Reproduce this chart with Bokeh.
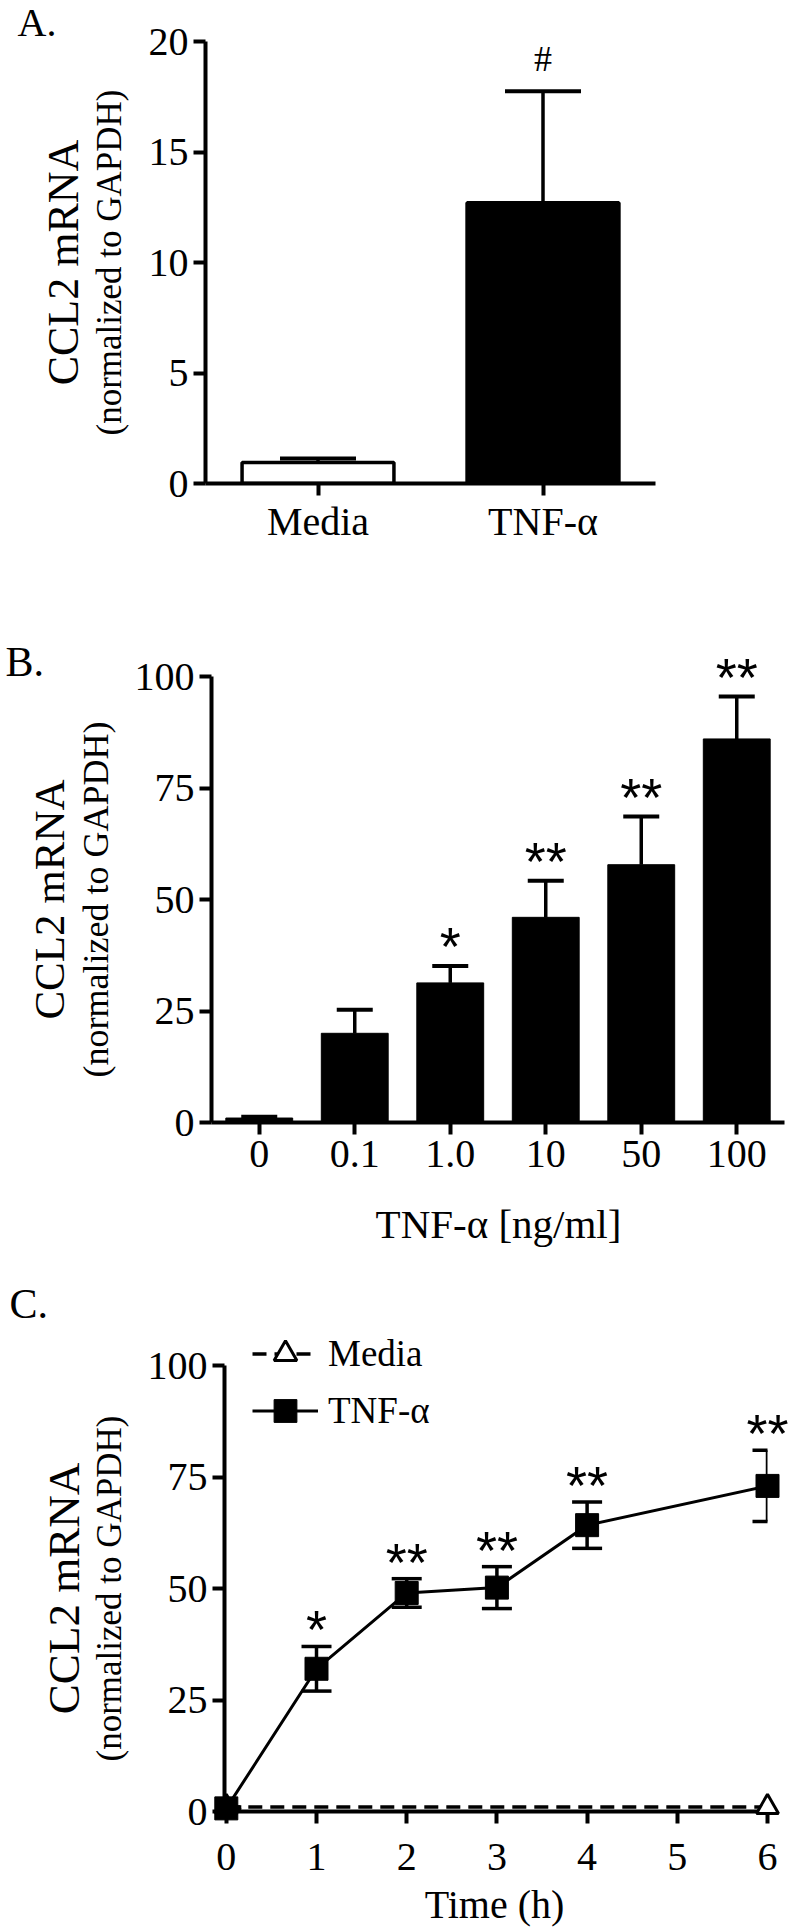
import numpy as np
from bokeh.plotting import figure
from bokeh.models import (ColumnDataSource, FixedTicker, Whisker, TeeHead,
                          Legend, LegendItem)
from bokeh.embed import file_html
from bokeh.resources import INLINE
from bokeh.core.properties import value

SERIF = "Liberation Serif"
SANS = "Liberation Sans"

# ---------------- data ----------------
# Panel A
a_groups = ["Media", "TNF-α"]
a_means = [0.95, 12.7]
a_errs = [0.18, 5.05]
a_fills = ["white", "black"]
a_sig = ["", "#"]
a_yticks = [0, 5, 10, 15, 20]

# Panel B
b_doses = ["0", "0.1", "1.0", "10", "50", "100"]
b_means = [1.0, 20.0, 31.3, 46.0, 57.8, 86.0]
b_errs = [0.3, 5.3, 3.8, 8.2, 10.8, 9.5]
b_sig = ["", "", "*", "**", "**", "**"]
b_yticks = [0, 25, 50, 75, 100]

# Panel C
c_hours = [0, 1, 2, 3, 4, 6]
c_tnf = [0.7, 32.0, 49.0, 50.2, 64.2, 73.0]
c_tnf_err = [0.3, 5.0, 3.2, 4.7, 5.2, 8.0]
c_sig = ["", "*", "**", "**", "**", "**"]
c_media_hours = [0, 6]
c_media = [1.0, 1.0]
c_xticks = [0, 1, 2, 3, 4, 5, 6]
c_yticks = [0, 25, 50, 75, 100]

PAGE_W = 793

# page-pixel geometry of each figure and its plot frame
GEOM = {
    "A": dict(fig_top=0, fig_bottom=570, left=205, right=655, top=41, bottom=483),
    "B": dict(fig_top=570, fig_bottom=1250, left=211, right=784, top=676, bottom=1122),
    "C": dict(fig_top=1250, fig_bottom=1928, left=224, right=767, top=1325, bottom=1811),
}
C_Y100_PX = 1365  # where the y-axis of panel C ends (value 100)
BASELINE_FIX = 0.4  # rendered alphabetic baseline sits ~0.4em lower than asked


def dx(g, xr, px):
    return xr[0] + (px - g["left"]) * (xr[1] - xr[0]) / (g["right"] - g["left"])


def dy(g, yr, py):
    return yr[0] + (g["bottom"] - py) * (yr[1] - yr[0]) / (g["bottom"] - g["top"])


def make_fig(g, xr, yr, x_standoff):
    p = figure(width=PAGE_W, height=g["fig_bottom"] - g["fig_top"],
               x_range=xr, y_range=yr, output_backend="svg", toolbar_location=None,
               min_border_left=g["left"], min_border_right=PAGE_W - g["right"],
               min_border_top=g["top"] - g["fig_top"],
               min_border_bottom=g["fig_bottom"] - g["bottom"])
    p.grid.visible = False
    p.outline_line_color = None
    p.background_fill_color = "white"
    p.border_fill_color = "white"
    for ax in p.axis:
        ax.axis_line_width = 4
        ax.axis_line_color = "black"
        ax.major_tick_line_width = 4
        ax.major_tick_line_color = "black"
        ax.major_tick_in = 0
        ax.major_tick_out = 12
        ax.minor_tick_line_color = None
        ax.major_label_text_font = SERIF
        ax.major_label_text_font_size = "40px"
        ax.major_label_text_color = "black"
    p.yaxis.major_label_standoff = 5
    p.xaxis.major_label_standoff = x_standoff
    return p


def add_text(p, g, xr, yr, px, py, text, size, vertical=False, align="left", font=SERIF):
    # (px, py): wanted baseline point in page pixels
    if vertical:
        px = px - BASELINE_FIX * size
        angle = np.pi / 2
    else:
        py = py - BASELINE_FIX * size
        angle = 0.0
    p.text(x=[dx(g, xr, px)], y=[dy(g, yr, py)], text=[text], text_font=value(font),
           text_font_size=value(f"{size}px"), angle=angle, text_align=align,
           text_baseline="alphabetic", text_color="black", level="overlay")


# ---------------- Panel A ----------------
gA = GEOM["A"]
xrA = (-0.5, len(a_groups) - 0.5)
yrA = (0, 20)
pA = make_fig(gA, xrA, yrA, 3)
srcA = ColumnDataSource(dict(x=list(range(len(a_groups))), top=a_means, fill=a_fills,
                             upper=[m + e for m, e in zip(a_means, a_errs)], sig=a_sig))
pA.vbar(x="x", top="top", bottom=0, width=0.675, fill_color="fill", line_color="black",
        line_width=3.5, source=srcA)
pA.add_layout(Whisker(source=srcA, base="x", lower="top", upper="upper", lower_head=None,
                      upper_head=TeeHead(size=76, line_width=4, line_color="black"),
                      line_width=3.5, line_color="black"))
pA.text(x="x", y="upper", text="sig", source=srcA, text_font=value(SERIF),
        text_font_size=value("36px"), text_align="center", text_baseline="alphabetic",
        y_offset=-32, level="overlay")
pA.xaxis.ticker = FixedTicker(ticks=list(range(len(a_groups))))
pA.xaxis.major_label_overrides = {i: s for i, s in enumerate(a_groups)}
pA.yaxis.ticker = FixedTicker(ticks=a_yticks)
add_text(pA, gA, xrA, yrA, 17, 38, "A.", 40)
add_text(pA, gA, xrA, yrA, 81, 262, "CCL2 mRNA", 44, vertical=True, align="center")
add_text(pA, gA, xrA, yrA, 123, 262, "(normalized to GAPDH)", 35, vertical=True, align="center")

# ---------------- Panel B ----------------
gB = GEOM["B"]
xrB = (-0.5, len(b_doses) - 0.5)
yrB = (0, 100)
pB = make_fig(gB, xrB, yrB, 6)
srcB = ColumnDataSource(dict(x=list(range(len(b_doses))), top=b_means,
                             upper=[m + e for m, e in zip(b_means, b_errs)], sig=b_sig))
pB.vbar(x="x", top="top", bottom=0, width=0.70, fill_color="black", line_color="black",
        line_width=1, source=srcB)
pB.add_layout(Whisker(source=srcB, base="x", lower="top", upper="upper", lower_head=None,
                      upper_head=TeeHead(size=36, line_width=4, line_color="black"),
                      line_width=3.5, line_color="black"))
pB.text(x="x", y="upper", text="sig", source=srcB, text_font=value(SANS),
        text_font_size=value("54px"), text_align="center", text_baseline="alphabetic",
        y_offset=-20, level="overlay")
pB.xaxis.ticker = FixedTicker(ticks=list(range(len(b_doses))))
pB.xaxis.major_label_overrides = {i: s for i, s in enumerate(b_doses)}
pB.yaxis.ticker = FixedTicker(ticks=b_yticks)
add_text(pB, gB, xrB, yrB, 5, 678, "B.", 42)
add_text(pB, gB, xrB, yrB, 66, 899, "CCL2 mRNA", 43, vertical=True, align="center")
add_text(pB, gB, xrB, yrB, 110, 899, "(normalized to GAPDH)", 36, vertical=True, align="center")
add_text(pB, gB, xrB, yrB, 498, 1240, "TNF-α [ng/ml]", 41, align="center")

# ---------------- Panel C ----------------
gC = GEOM["C"]
xrC = (-0.02, 6)
yrC = (0, 100 * (gC["bottom"] - gC["top"]) / (gC["bottom"] - C_Y100_PX))
pC = make_fig(gC, xrC, yrC, 20)
pC.yaxis.bounds = (0, 100)
srcT = ColumnDataSource(dict(x=c_hours, y=c_tnf,
                             lo=[m - e for m, e in zip(c_tnf, c_tnf_err)],
                             hi=[m + e for m, e in zip(c_tnf, c_tnf_err)], sig=c_sig))
srcM = ColumnDataSource(dict(x=c_media_hours, y=c_media))
m_line = pC.line(x="x", y="y", source=srcM, line_width=3.5, line_color="black",
                 line_dash="14 8", level="overlay")
m_pts = pC.scatter(x="x", y="y", source=srcM, marker="triangle", size=22,
                   fill_color="white", line_color="black", line_width=3, level="overlay")
t_line = pC.line(x="x", y="y", source=srcT, line_width=3, line_color="black", level="overlay")
t_pts = pC.scatter(x="x", y="y", source=srcT, marker="square", size=23,
                   fill_color="black", line_color="black", level="overlay")
pC.add_layout(Whisker(source=srcT, base="x", lower="lo", upper="hi",
                      lower_head=TeeHead(size=30, line_width=3.5, line_color="black"),
                      upper_head=TeeHead(size=30, line_width=3.5, line_color="black"),
                      line_width=3.5, line_color="black", level="overlay"))
pC.text(x="x", y="hi", text="sig", source=srcT, text_font=value(SANS),
        text_font_size=value("54px"), text_align="center", text_baseline="alphabetic",
        y_offset=-17, level="overlay")
pC.xaxis.ticker = FixedTicker(ticks=c_xticks)
pC.yaxis.ticker = FixedTicker(ticks=c_yticks)
legend = Legend(items=[LegendItem(label="Media", renderers=[m_line, m_pts]),
                       LegendItem(label="TNF-α", renderers=[t_line, t_pts])],
                location=(28, 372), glyph_width=66, glyph_height=57, label_height=57,
                label_standoff=10, spacing=-8, padding=0, margin=0,
                label_text_font=SERIF, label_text_font_size="37px",
                label_text_color="black",
                background_fill_alpha=0, border_line_alpha=0)
pC.add_layout(legend)
add_text(pC, gC, xrC, yrC, 9, 1320, "C.", 42)
add_text(pC, gC, xrC, yrC, 81, 1588, "CCL2 mRNA", 45, vertical=True, align="center")
add_text(pC, gC, xrC, yrC, 123, 1588, "(normalized to GAPDH)", 35, vertical=True, align="center")
add_text(pC, gC, xrC, yrC, 494, 1920, "Time (h)", 40, align="center")

open("out.html", "w").write(file_html([pA, pB, pC], INLINE))
